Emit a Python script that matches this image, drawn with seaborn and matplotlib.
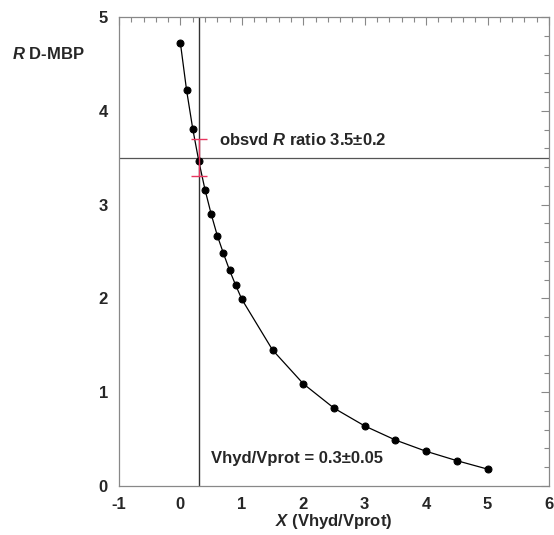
import numpy as np
import pandas as pd
import seaborn as sns
import matplotlib
matplotlib.use("Agg")
import matplotlib.pyplot as plt
from matplotlib.ticker import AutoMinorLocator

# ---- data ----
x_ratio = [0.0, 0.1, 0.2, 0.3, 0.4, 0.5, 0.6, 0.7, 0.8, 0.9, 1.0,
           1.5, 2.0, 2.5, 3.0, 3.5, 4.0, 4.5, 5.0]
r_dmbp = [4.72, 4.22, 3.81, 3.46, 3.16, 2.90, 2.67, 2.48, 2.30, 2.14, 1.99,
          1.45, 1.09, 0.83, 0.64, 0.49, 0.37, 0.27, 0.18]
obs_r = 3.5
obs_r_err = 0.2
obs_x = 0.3
x_ticks = [-1, 0, 1, 2, 3, 4, 5, 6]
y_ticks = [0, 1, 2, 3, 4, 5]

sns.set_style("white")
plt.rcParams['font.family'] = ['Liberation Sans', 'DejaVu Sans']
plt.rcParams['font.weight'] = 'bold'
plt.rcParams['axes.unicode_minus'] = False
plt.rcParams['mathtext.fontset'] = 'custom'
plt.rcParams['mathtext.it'] = 'Liberation Sans:italic:bold'
plt.rcParams['mathtext.rm'] = 'Liberation Sans:bold'
plt.rcParams['mathtext.bf'] = 'Liberation Sans:bold'

FS = 12

fig = plt.figure(figsize=(5.54, 5.35), dpi=100)
ax = fig.add_axes([119/554, 1-486/535, (549-119)/554, (486-17)/535])

df = pd.DataFrame({"x": x_ratio, "R": r_dmbp})
sns.lineplot(data=df, x="x", y="R", ax=ax, color="black", linewidth=0.9,
             marker="o", markersize=5, markeredgecolor="black", zorder=3)

ax.axhline(obs_r, color="#555555", linewidth=0.9, zorder=2)
ax.axvline(obs_x, color="#333333", linewidth=1.0, zorder=2)
ax.errorbar([obs_x], [obs_r], yerr=[obs_r_err], fmt="none", ecolor="#e8365f",
            elinewidth=1.0, capsize=5.5, capthick=1.0, zorder=4)

ax.text(0.63, 3.69, "obsvd $R$ ratio 3.5\u00b10.2", fontsize=FS,
        fontweight="bold", va="center", ha="left")
ax.text(0.50, 0.29, "Vhyd/Vprot = 0.3\u00b10.05", fontsize=FS,
        fontweight="bold", va="center", ha="left")

ax.set_xlim(-1, 6)
ax.set_ylim(0, 5)
ax.set_xticks(x_ticks)
ax.set_yticks(y_ticks)
ax.xaxis.set_minor_locator(AutoMinorLocator(5))
ax.yaxis.set_minor_locator(AutoMinorLocator(5))
ax.tick_params(which="both", direction="in", top=True, right=True,
               color="#888888", labelsize=FS, width=0.8)
ax.tick_params(which="major", length=6, pad=8)
ax.tick_params(which="minor", length=3.5)
for lab in ax.get_xticklabels() + ax.get_yticklabels():
    lab.set_fontweight("bold")
for s in ax.spines.values():
    s.set_color("#888888")
    s.set_linewidth(0.9)

ax.set_xlabel("$X$ (Vhyd/Vprot)", fontsize=FS, fontweight="bold", labelpad=0)
ax.set_ylabel("")
fig.text(12/554, 1-54/535, "$R$ D-MBP", fontsize=FS, fontweight="bold",
         va="center", ha="left")

fig.savefig("out.png", dpi=100)
